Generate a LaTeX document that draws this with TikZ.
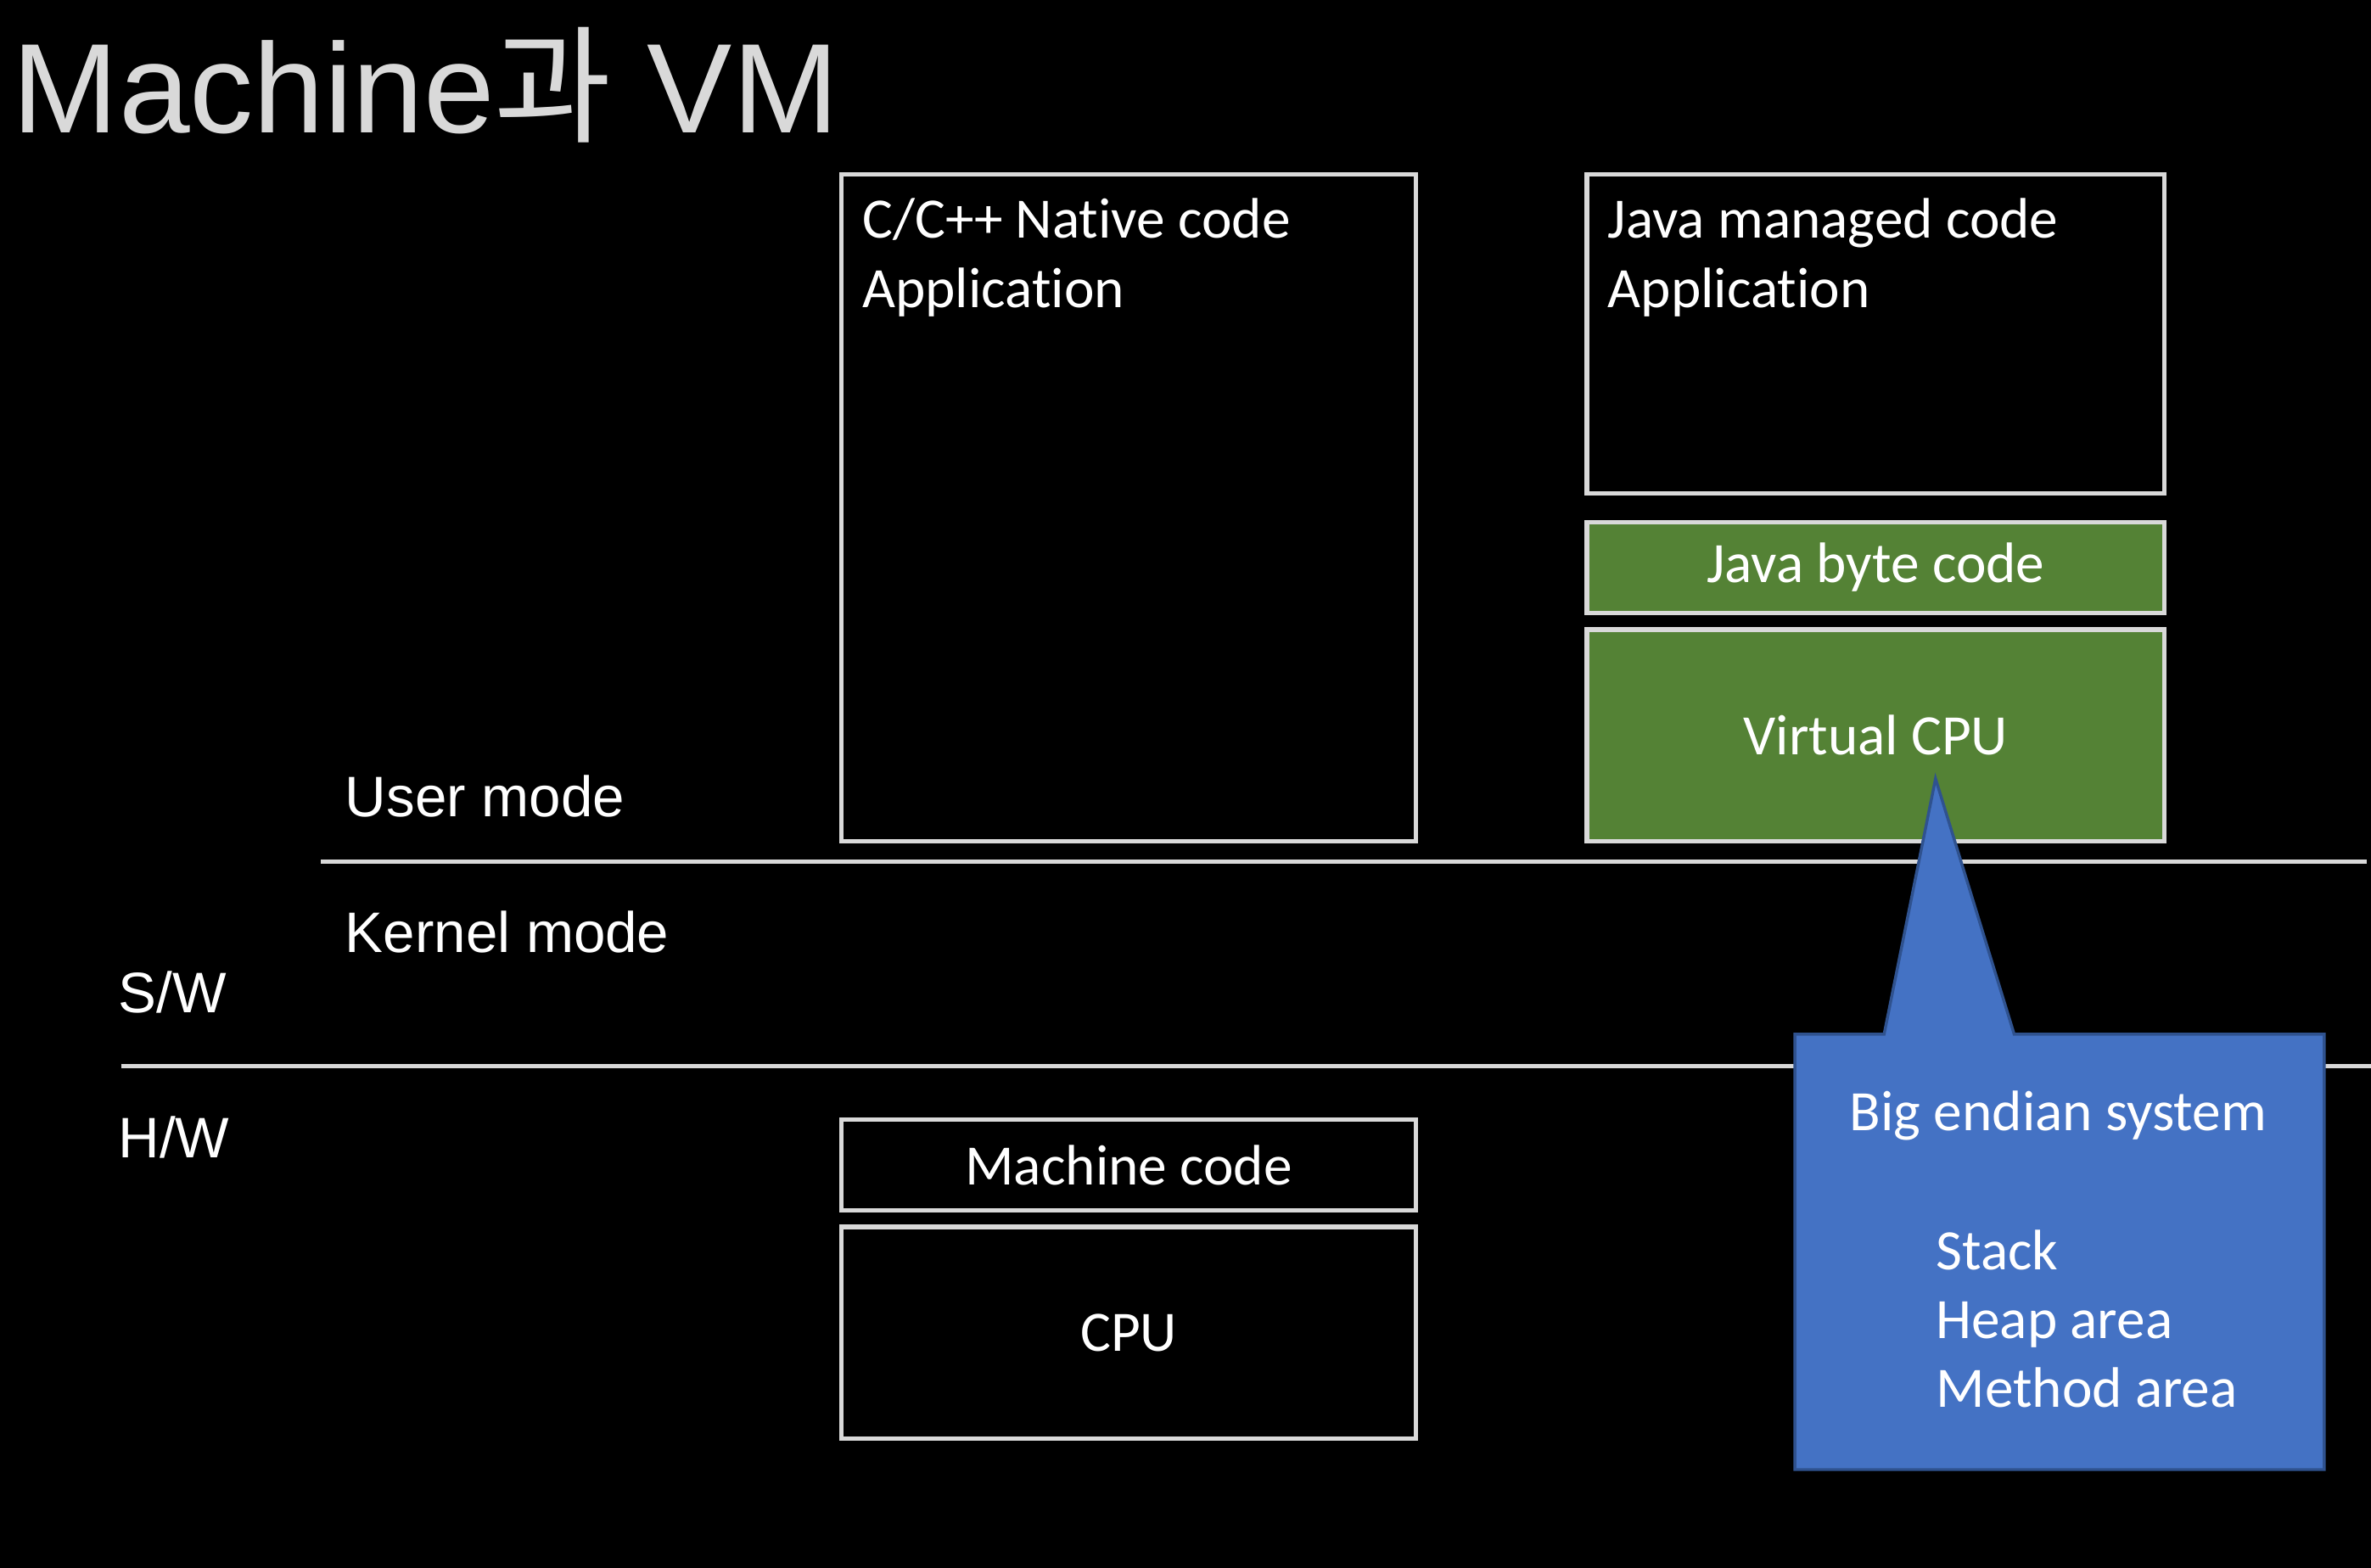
\documentclass[tikz,border=0pt]{standalone}
\usepackage{fontspec}
\setmainfont{Carlito}[Ligatures=NoCommon]
\newfontfamily\arialfont{Liberation Sans}
\newfontfamily\krfont{Noto Sans CJK KR}
\usetikzlibrary{positioning}
\definecolor{boxgray}{HTML}{D9D9D9}
\definecolor{vmgreen}{HTML}{548235}
\definecolor{calloutblue}{HTML}{4472C4}
\definecolor{calloutedge}{HTML}{2F528F}
\tikzset{
  layerbox/.style={draw=boxgray,line width=1.7pt,fill=black,inner sep=0pt,anchor=north west,
    text=white,font=\fontsize{21.5}{26}\selectfont},
  greenbox/.style={layerbox,fill=vmgreen},
  boxtext/.style={text=white,font=\fontsize{21.5}{26}\selectfont,align=left,inner sep=0pt,anchor=north west},
  modetext/.style={text=white,font=\arialfont\fontsize{21.5}{26}\selectfont,inner sep=0pt,anchor=base west},
  sepline/.style={draw=boxgray,line width=1.7pt}
}
\begin{document}
\begin{tikzpicture}[x=0.02cm,y=-0.02cm]
\fill[black](0,0)rectangle(1568,1037);
\useasboundingbox(0,0)rectangle(1568,1037);
% title
\node[anchor=base west,inner sep=0pt,text=boxgray,font=\arialfont\fontsize{48}{56}\selectfont](title)at(8,88){Machine{\krfont 과} VM};
% software side
\node[layerbox,minimum width=7.6cm,minimum height=8.82cm](native)at(555,114){};
\node[boxtext](nativetxt)at([shift={(15,17)}]native.north west){C/C++ Native code\\Application};
\node[layerbox,minimum width=7.64cm,minimum height=4.22cm](javaapp)at(1048,114){};
\node[boxtext](javatxt)at([shift={(15,17)}]javaapp.north west){Java managed code\\Application};
\node[greenbox,minimum width=7.64cm,minimum height=1.2cm,below=0.32cm of javaapp](bytecode){Java byte code};
\node[greenbox,minimum width=7.64cm,minimum height=2.8cm,below=0.16cm of bytecode](vcpu){Virtual CPU};
% modes and layers
\coordinate(modeL)at(212,570);
\coordinate(modeR)at(1565,570);
\coordinate(layerL)at(80,705);
\coordinate(layerR)at(1568,705);
\draw[sepline](modeL)--(modeR);
\draw[sepline](layerL)--(layerR);
\node[modetext](user)at(228,540){User mode};
\node[modetext](kernel)at(228,630){Kernel mode};
\node[modetext](sw)at(78,670){S/W};
\node[modetext](hw)at(78,766){H/W};
% hardware side
\node[layerbox,minimum width=7.6cm,minimum height=1.2cm](mcode)at(555,739){};
\node[text=white,font=\fontsize{21.5}{26}\selectfont](mcodetxt)at(mcode.center){Machine code};
\node[layerbox,minimum width=7.6cm,minimum height=2.8cm,below=0.16cm of mcode](cpu){CPU};
% callout
\coordinate(tip)at(1280,515);
\draw[fill=calloutblue,draw=calloutedge,line width=1.1pt](1187,684)--(1246,684)--(tip)--(1332,684)--(1537,684)--(1537,972)--(1187,972)--cycle;
\node[boxtext,anchor=base west](endian)at(1223,748){Big endian system};
\node[boxtext](areas)at(1280,813){Stack\\Heap area\\Method area};
\end{tikzpicture}
\end{document}
